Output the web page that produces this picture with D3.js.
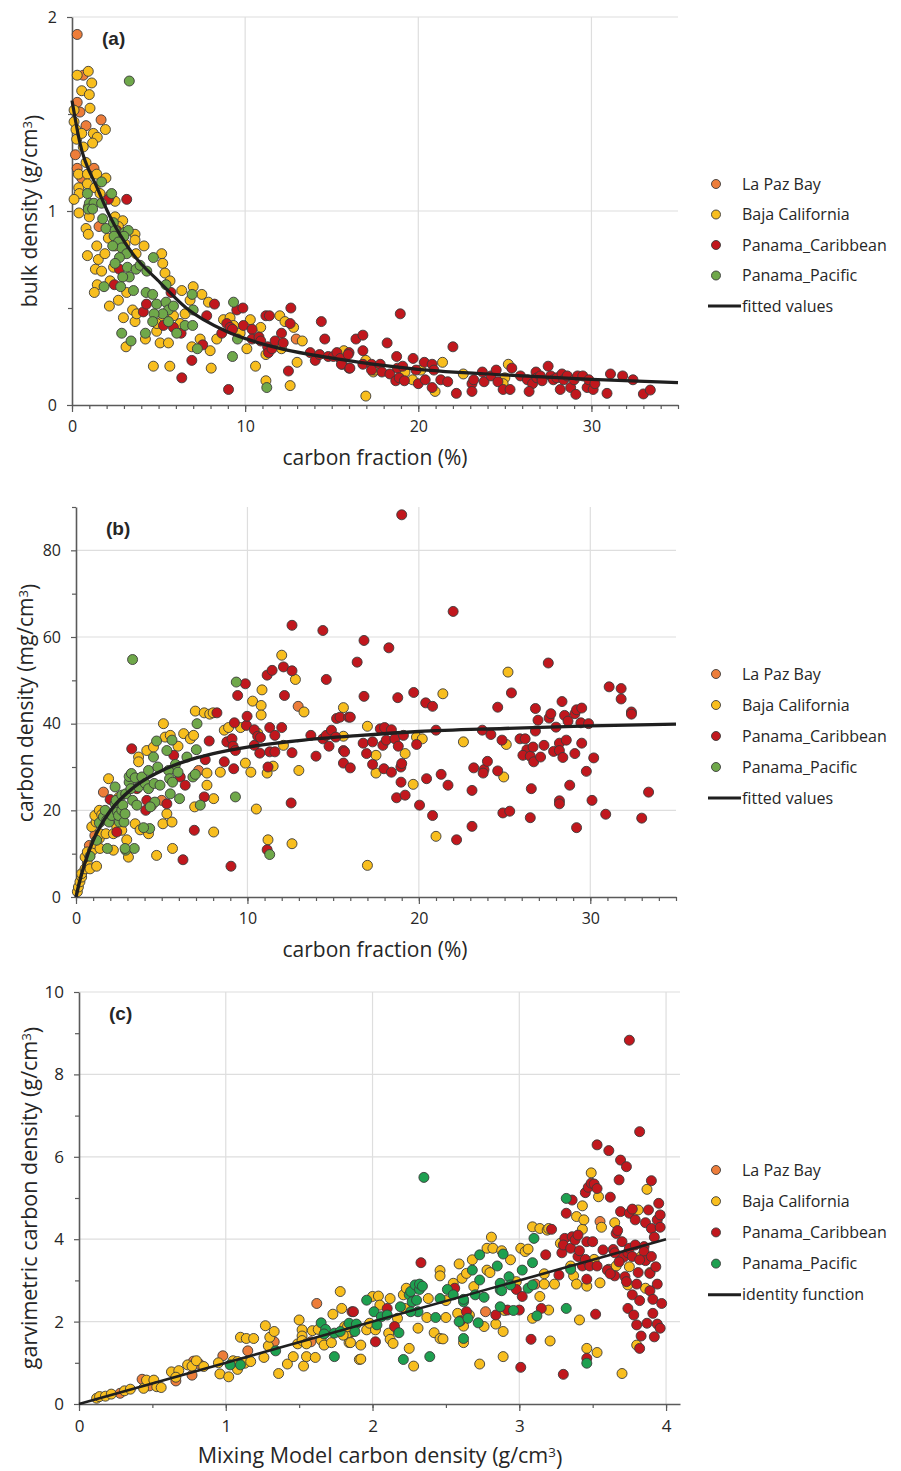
<!DOCTYPE html>
<html>
<head>
<meta charset="utf-8">
<script src="https://cdn.jsdelivr.net/npm/d3@7"></script>
<style>
  body { margin: 0; background: #fff; }
  text { font-family: "Open Sans", sans-serif; fill: #262626; }
</style>
</head>
<body>
<div id="chart"></div>
<script>
// ---- series names ----
const seriesNames = ["La Paz Bay", "Baja California", "Panama_Caribbean", "Panama_Pacific"];

// ---- panel (a): bulk density vs carbon fraction ----
const aLaPaz = [[0.3,1.91],[0.65,1.70],[0.3,1.56],[0.46,1.51],[1.68,1.47],[0.81,1.44],[0.2,1.29],[0.3,1.22],
  [0.56,1.17],[1.27,1.22],[1.56,0.92],[2.58,0.90],[12.95,0.34]];
const aBaja = [[0.3,1.70],[0.94,1.72],[0.56,1.62],[1.0,1.60],[1.14,1.66],[1.04,1.53],[0.12,1.52],[0.12,1.46],
  [0.23,1.42],[0.27,1.37],[0.56,1.40],[1.23,1.40],[1.46,1.38],[1.93,1.42],[1.19,1.35],[0.65,1.33],[0.81,1.25],
  [0.37,1.19],[0.89,1.19],[1.43,1.19],[1.96,1.17],[0.39,1.12],[0.42,1.09],[0.89,1.14],[1.33,1.12],[1.62,1.09],
  [0.12,1.06],[0.4,0.99],[0.94,1.02],[2.49,1.05],[2.2,1.08],[1.0,0.97],[0.81,0.91],[0.94,0.88],[0.89,0.77],
  [1.43,0.82],[1.52,0.75],[1.35,0.70],[1.71,0.69],[1.46,0.62],[1.29,0.58],[2.2,0.64],[2.16,0.51],[2.68,0.54],
  [2.97,0.45],[3.12,0.30],[2.49,0.97],[2.93,0.95],[2.68,0.92],[2.1,0.86],[2.49,0.82],[3.06,0.83],[3.64,0.88],
  [3.64,0.85],[4.16,0.82],[3.7,0.78],[1.9,0.78],[2.4,0.71],[3.16,0.58],[3.5,0.49],[3.64,0.43],[3.74,0.47],
  [4.24,0.34],[4.89,0.38],[5.09,0.32],[5.57,0.32],[4.7,0.20],[5.65,0.20],[5.18,0.78],[5.24,0.73],[5.37,0.68],
  [5.66,0.64],[6.34,0.59],[7.0,0.61],[7.5,0.57],[7.88,0.53],[6.82,0.54],[6.53,0.47],[6.24,0.42],[5.86,0.46],
  [5.28,0.44],[4.9,0.42],[6.92,0.30],[7.4,0.34],[7.98,0.28],[8.04,0.19],[8.36,0.34],[8.75,0.44],[9.13,0.45],
  [9.33,0.41],[9.71,0.37],[10.1,0.29],[10.3,0.44],[10.6,0.20],[10.9,0.40],[11.2,0.26],[11.2,0.125],[12.0,0.46],
  [12.3,0.43],[12.8,0.40],[12.1,0.29],[12.6,0.10],[13.0,0.22],[13.3,0.33],[15.7,0.28],[16.97,0.23],[17.4,0.17],
  [16.97,0.046],[19.23,0.17],[19.67,0.13],[20.15,0.18],[20.97,0.07],[21.4,0.22],[22.6,0.16],[25.0,0.14],
  [24.9,0.11],[25.2,0.21],[17.5,0.18]];
const aCarib = [[3.16,1.06],[2.1,1.06],[2.58,0.90],[2.74,0.70],[2.45,0.62],[4.12,0.48],[5.72,0.58],[4.3,0.52],
  [5.28,0.41],[6.3,0.37],[5.86,0.40],[6.34,0.14],[6.92,0.23],[7.55,0.31],[7.78,0.46],[8.23,0.52],[8.65,0.37],
  [8.94,0.42],[9.13,0.40],[9.27,0.39],[9.04,0.08],[9.52,0.49],[9.87,0.50],[9.9,0.41],[10.4,0.39],[10.4,0.34],
  [10.8,0.35],[10.9,0.33],[11.2,0.46],[11.4,0.46],[11.3,0.30],[11.35,0.27],[11.55,0.29],[11.73,0.33],[12.1,0.37],
  [12.2,0.32],[12.5,0.175],[12.64,0.50],[12.6,0.42],[13.76,0.27],[14.05,0.23],[14.4,0.43],[14.6,0.34],[14.3,0.26],
  [14.8,0.25],[15.1,0.25],[15.3,0.27],[15.5,0.24],[15.6,0.21],[16.0,0.27],[16.0,0.19],[16.4,0.34],[15.56,0.21],
  [15.95,0.26],[16.05,0.19],[16.8,0.36],[16.8,0.28],[16.8,0.21],[17.3,0.21],[17.3,0.18],[17.8,0.21],[17.9,0.17],
  [18.2,0.32],[18.36,0.16],[18.75,0.25],[18.7,0.125],[18.8,0.19],[18.96,0.47],[18.9,0.14],[19.1,0.20],[19.2,0.125],
  [19.7,0.24],[19.87,0.18],[20.0,0.11],[20.35,0.22],[20.4,0.13],[20.8,0.21],[20.8,0.09],[20.9,0.18],[21.3,0.13],
  [21.7,0.12],[22.0,0.30],[22.2,0.06],[23.1,0.11],[23.2,0.13],[23.1,0.07],[23.7,0.17],[23.8,0.12],[24.2,0.15],
  [24.5,0.18],[24.6,0.12],[24.9,0.08],[25.3,0.08],[25.4,0.19],[25.9,0.15],[26.3,0.13],[26.6,0.11],[26.4,0.07],
  [26.8,0.17],[26.85,0.14],[27.05,0.15],[27.15,0.125],[27.5,0.20],[27.65,0.15],[27.8,0.13],[28.0,0.14],[28.2,0.08],
  [28.3,0.16],[28.4,0.13],[28.6,0.15],[28.8,0.09],[29.0,0.13],[29.1,0.055],[29.2,0.15],[29.5,0.15],[29.75,0.09],
  [29.85,0.13],[30.1,0.08],[30.2,0.11],[30.9,0.06],[31.1,0.16],[31.8,0.15],[32.4,0.13],[33.0,0.057],[33.4,0.077]];
const aPacific = [[3.31,1.67],[1.71,1.15],[0.89,1.09],[2.29,1.09],[1.0,1.04],[1.27,1.04],[1.71,1.04],[0.94,1.01],
  [1.19,1.01],[1.77,0.96],[1.96,0.91],[2.39,0.94],[2.49,0.90],[3.06,0.89],[3.25,0.90],[3.0,0.87],[2.43,0.87],
  [2.68,0.84],[2.87,0.81],[3.16,0.78],[2.35,0.82],[2.74,0.76],[2.49,0.73],[3.2,0.71],[3.7,0.70],[3.93,0.72],
  [4.32,0.69],[4.7,0.76],[3.31,0.66],[2.93,0.66],[2.81,0.61],[3.55,0.59],[4.28,0.58],[4.66,0.57],[4.89,0.52],
  [5.43,0.53],[5.43,0.62],[5.57,0.49],[5.86,0.51],[5.24,0.47],[4.74,0.47],[7.0,0.49],[6.94,0.57],[9.33,0.53],
  [6.53,0.41],[6.97,0.41],[4.66,0.43],[4.24,0.37],[2.87,0.37],[3.41,0.33],[1.85,0.61],[6.05,0.37],[7.24,0.29],
  [9.56,0.34],[9.27,0.25],[11.25,0.09],[5.57,0.43]];
const aFit = [[0,1.57],[0.46,1.35],[1.45,1.12],[2.2,0.97],[3.5,0.78],[5.1,0.63],[6.6,0.50],[8.9,0.38],
  [11.2,0.31],[15.5,0.235],[20,0.184],[25,0.155],[30,0.132],[35,0.115]];

// ---- panel (b): carbon density vs carbon fraction ----
const bLaPaz = [[1.6,24.2],[0.78,11.9],[1.1,14.2],[7.15,29.2],[12.96,44.0],[5.0,22.3]];
const bBaja = [[0.08,1.2],[0.14,2.3],[0.23,3.5],[0.33,4.6],[0.33,5.4],[0.53,6.5],[0.66,7.8],[0.82,6.5],[0.53,9.2],
  [0.78,9.6],[0.66,10.4],[0.97,10.8],[1.2,7.1],[1.1,12.3],[1.36,13.5],[1.4,11.2],[0.92,16.2],[1.17,17.3],[1.1,18.8],
  [1.36,20],[1.4,14.6],[1.75,14.6],[1.9,27.3],[2.18,14.6],[2.18,10.8],[2.38,16.2],[2.67,15.4],[2.96,13.2],[3.06,9.2],
  [3.45,16.9],[3.74,15.5],[4.23,14.6],[3.65,32.3],[3.65,31.2],[4.13,33.8],[4.52,34.6],[4.7,9.6],[5.07,16.9],
  [5.3,19.2],[5.1,40],[5.2,36.9],[5.5,37.3],[5.95,34.8],[5.63,11.2],[5.6,17.3],[6.28,37.7],[6.67,36.5],[6.86,37.3],
  [6.96,42.9],[7.48,42.5],[7.8,42.2],[8.0,42.5],[6.92,20.8],[7.64,25.8],[7.64,28.6],[8.03,15],[8.03,22.7],
  [8.42,28.8],[8.65,38.5],[8.9,39.1],[9.6,39.1],[9.88,30.9],[10.2,28.8],[10.3,45.2],[10.85,47.8],[10.8,44.2],
  [10.8,42],[10.6,37.8],[10.52,20.3],[11.15,28.6],[11.5,30.2],[11.2,13.2],[12.0,55.8],[12.1,35],[12.8,50.2],
  [13.3,42.7],[12.6,12.3],[13.0,29.2],[15.6,37.1],[15.6,43.7],[17.0,39.4],[17.5,32.7],[17.5,28.6],[19.2,33.1],
  [19.67,26],[19.86,36.9],[20.2,36.5],[21.4,46.9],[21.0,14],[22.6,35.8],[24.95,27.7],[25.1,35.2],[25.2,51.9],
  [17.0,7.3],[1.5,19],[2.5,23],[4.4,21]];
const bCarib = [[3.25,34.2],[2.38,15],[1.99,22.5],[3.55,25],[4.07,20],[4.13,22.3],[5.3,21.5],[5.7,32.7],[6.08,27.7],
  [6.37,25.8],[6.24,8.6],[6.9,15.4],[7.48,23.1],[7.54,31.7],[7.77,36],[8.22,42.5],[8.65,31.2],[8.8,35.8],[9.1,36.5],
  [9.16,34.8],[9.2,29.6],[9.3,33.8],[9.43,46.5],[9.04,7.1],[9.24,40.2],[9.88,49.2],[9.94,39.6],[9.98,41.7],
  [10.4,35],[10.4,38.6],[10.6,37.1],[10.72,33.2],[10.76,36.8],[11.15,51.2],[11.44,52.3],[11.3,39.1],[11.3,33.5],
  [11.6,33.5],[11.6,37.3],[11.2,30],[11.15,10.9],[12.1,53.1],[12.16,46.5],[12.0,39.1],[12.6,52.2],[12.6,33.3],
  [12.55,21.7],[12.6,62.7],[14.4,61.5],[14.6,50.2],[13.7,37.3],[14.0,32.5],[14.4,36.5],[14.6,37.3],[14.76,34.8],
  [14.9,38.5],[15.15,36.9],[15.2,41.2],[15.4,41.5],[15.6,33.8],[15.6,30.9],[16.0,29.8],[15.9,41.5],[16.4,54.2],
  [16.8,59.2],[16.8,46.3],[18.25,57.5],[19.0,88.2],[22.0,65.9],[16.0,41.5],[15.67,33.5],[16.75,35.5],[16.95,33.1],
  [17.3,35.8],[17.3,30.6],[17.9,35],[17.75,38.8],[18.0,39.1],[18.1,36.2],[18.4,38.6],[17.96,29.6],[18.4,28.8],
  [18.6,36.5],[18.8,34.8],[18.95,30],[19.0,30.8],[18.77,46],[18.96,26.5],[18.7,22.9],[19.2,23.5],[19.1,37.3],
  [19.7,47.2],[19.87,35.2],[20.04,21.2],[20.4,44.8],[20.8,44],[20.45,27.3],[21.0,38.5],[21.3,28.3],[20.8,18.8],
  [21.7,25.8],[22.2,13.2],[23.1,24.6],[23.2,29.8],[23.1,16.3],[23.8,29.4],[24.0,31.3],[23.75,28.6],[23.7,38.5],
  [24.2,37.5],[24.6,43.8],[24.85,36.2],[24.6,29.1],[24.9,19.4],[25.3,19.8],[25.4,47.1],[25.9,36.5],[26.2,36.5],
  [26.3,34],[26.07,32.7],[26.5,32.5],[26.7,31.2],[26.66,34.6],[26.8,38.3],[26.56,25],[26.5,18.3],[26.8,43.5],
  [26.95,40.8],[27.3,35],[27.1,32.3],[27.55,54],[27.6,41.3],[27.7,42.3],[27.86,33.6],[28.0,39.2],[28.2,35.5],
  [28.2,33.8],[28.4,32.2],[28.35,45.1],[28.5,41.9],[28.7,40.6],[28.6,36.2],[28.2,22.2],[28.2,21.5],[28.8,25.8],
  [29.1,42.3],[29.2,43.2],[29.5,43.6],[29.45,40.2],[29.9,40],[29.1,33.1],[29.5,35.5],[29.2,16],[29.77,29],
  [30.1,22.3],[30.2,32.1],[30.9,19.1],[31.1,48.5],[31.8,48.1],[31.8,45.7],[32.4,42.7],[32.4,42.2],[33.0,18.2],
  [33.4,24.2]];
const bPacific = [[3.3,54.8],[0.82,9.4],[1.2,13.1],[1.83,11.2],[1.36,17.1],[1.6,18.5],[1.7,20],[1.79,17.7],
  [1.93,17.3],[2.09,18.8],[2.28,21.5],[2.34,22.3],[2.42,19.6],[2.53,17.3],[2.48,18.8],[2.67,20],[2.73,21.2],
  [2.8,17.3],[2.86,19.2],[2.28,25.4],[2.67,23.5],[2.9,23.8],[3.1,26.5],[3.1,27.8],[3.23,28.5],[3.2,25],[3.3,22.3],
  [3.55,21.2],[3.45,27.5],[2.9,10.8],[3.4,11.2],[3.65,25.4],[3.84,27.7],[4.04,26.2],[4.23,25],[4.23,29.2],
  [4.52,32.3],[4.56,26.2],[4.6,21.9],[4.33,20.8],[4.3,15.8],[4.77,30],[4.9,25.8],[4.7,36],[5.3,33.8],[5.4,29.2],
  [5.6,36.2],[5.46,27.3],[5.5,23.8],[5.63,26.5],[5.8,30.6],[5.95,28.8],[6.04,22.7],[6.47,32.3],[6.82,27.7],
  [6.96,28.3],[7.02,34],[7.06,40],[7.25,21.2],[9.3,23.1],[9.35,49.6],[11.3,9.8],[2.86,11.2],[3.94,16]];
const bFit = [[0,0],[0.2,3.4],[0.5,7.6],[1,13],[1.4,16.2],[2,19.9],[3.3,25.1],[5.3,29.7],[7.2,32.3],[10,34.6],
  [13,36.1],[16.6,37.3],[20,38.2],[25,38.9],[30,39.5],[35,39.9]];

// ---- panel (c): gravimetric vs mixing model carbon density ----
const cLaPaz = [[0.28,0.26],[0.43,0.60],[0.48,0.44],[0.66,0.56],[0.77,0.70],[0.78,1.04],[0.82,0.97],[0.98,1.17],
  [1.15,1.29],[1.33,1.51],[1.62,2.44],[1.58,1.51],[1.85,1.73],[1.86,1.76],[2.77,2.24],[3.11,2.91],[3.55,4.43],
  [3.61,3.27]];
const cBaja = [[0.12,0.14],[0.14,0.18],[0.18,0.19],[0.22,0.24],[0.31,0.32],[0.35,0.36],[0.44,0.38],[0.46,0.58],
  [0.51,0.58],[0.53,0.42],[0.56,0.40],[0.63,0.78],[0.68,0.81],[0.66,0.65],[0.74,0.95],[0.77,0.92],[0.8,1.05],
  [0.85,0.91],[0.95,1.0],[0.96,0.73],[1.02,0.66],[1.05,1.05],[1.08,0.84],[1.08,1.03],[1.13,0.99],[1.17,1.03],
  [1.1,1.62],[1.14,1.59],[1.19,1.59],[1.27,1.90],[1.26,1.13],[1.29,1.41],[1.3,1.62],[1.33,1.76],[1.36,0.74],
  [1.42,0.97],[1.46,1.15],[1.5,2.04],[1.49,1.46],[1.52,1.80],[1.52,1.65],[1.52,1.54],[1.55,1.46],[1.53,0.92],
  [1.55,1.15],[1.61,1.13],[1.59,1.78],[1.63,1.81],[1.65,1.55],[1.67,1.43],[1.68,1.73],[1.72,1.49],[1.73,2.18],
  [1.78,2.73],[1.79,2.32],[1.81,1.88],[1.82,1.67],[1.84,1.49],[1.91,1.08],[1.8,1.67],[1.83,1.88],[1.85,1.49],
  [1.92,1.43],[1.92,1.09],[1.96,1.80],[2.0,2.61],[2.04,2.62],[1.98,1.96],[2.02,1.80],[2.05,2.40],[2.12,2.56],
  [2.11,1.72],[2.12,1.57],[2.14,1.47],[2.17,2.08],[2.21,2.65],[2.23,2.81],[2.22,2.32],[2.25,1.35],[2.28,0.92],
  [2.31,1.84],[2.38,2.56],[2.37,2.10],[2.42,1.73],[2.46,3.24],[2.46,3.11],[2.46,1.59],[2.48,1.58],[2.5,2.51],
  [2.5,2.10],[2.55,2.93],[2.58,2.20],[2.59,3.40],[2.61,3.05],[2.62,1.49],[2.62,1.89],[2.64,3.17],[2.66,2.16],
  [2.68,3.50],[2.69,2.85],[2.73,0.97],[2.76,1.88],[2.78,3.25],[2.81,4.05],[2.78,3.78],[2.82,3.78],[2.8,3.19],
  [2.84,1.94],[2.88,3.72],[2.89,1.76],[2.89,1.15],[2.9,2.27],[2.94,3.50],[2.98,2.97],[3.01,3.78],[3.04,3.70],
  [3.06,3.76],[3.09,4.30],[3.09,2.08],[3.14,4.26],[3.17,3.16],[3.17,2.91],[3.14,2.61],[3.2,2.28],[3.21,1.53],
  [3.19,4.22],[3.2,4.26],[3.24,2.91],[3.28,3.90],[3.35,3.35],[3.37,3.11],[3.39,2.91],[3.39,4.55],[3.41,2.04],
  [3.43,4.81],[3.43,4.24],[3.44,4.47],[3.46,1.35],[3.46,2.86],[3.49,5.61],[3.51,3.51],[3.53,1.25],[3.54,5.03],
  [3.55,2.94],[3.56,4.29],[3.65,4.40],[3.66,3.35],[3.7,0.74],[3.74,2.89],[3.75,3.33],[3.81,4.71],[3.83,3.58],
  [3.8,1.43],[3.87,5.21],[3.86,2.81],[3.89,3.19]];
const cCarib = [[1.86,2.24],[1.87,2.24],[2.02,1.51],[2.1,2.32],[2.15,1.88],[2.33,3.43],[2.56,2.81],[2.6,2.02],
  [2.64,2.24],[2.84,2.16],[2.92,2.28],[3.0,2.28],[2.98,2.78],[3.02,2.61],[3.01,0.89],[3.08,1.57],[3.15,2.32],
  [3.18,3.62],[3.22,4.24],[3.27,3.13],[3.3,0.72],[3.29,3.67],[3.31,4.02],[3.3,3.86],[3.32,4.63],[3.35,3.78],
  [3.36,4.95],[3.36,4.06],[3.38,3.98],[3.4,4.10],[3.4,3.58],[3.41,3.72],[3.43,3.35],[3.45,3.51],[3.46,3.94],
  [3.46,3.03],[3.46,1.11],[3.45,5.13],[3.47,5.26],[3.48,3.35],[3.49,5.36],[3.5,3.94],[3.51,5.34],[3.52,2.18],
  [3.53,6.29],[3.53,5.23],[3.53,3.35],[3.6,3.25],[3.57,3.74],[3.61,6.15],[3.62,5.02],[3.64,3.75],[3.65,3.67],
  [3.65,3.11],[3.66,4.14],[3.67,4.21],[3.68,5.44],[3.69,5.92],[3.69,4.67],[3.7,3.94],[3.71,3.56],[3.68,3.45],
  [3.72,3.09],[3.73,5.76],[3.74,3.67],[3.75,8.83],[3.75,4.63],[3.75,3.78],[3.77,4.73],[3.77,3.58],[3.77,2.65],
  [3.74,2.32],[3.73,2.97],[3.78,2.16],[3.79,4.47],[3.8,1.92],[3.8,2.91],[3.81,3.19],[3.82,6.61],[3.82,2.51],
  [3.83,1.65],[3.82,1.35],[3.85,3.82],[3.85,3.70],[3.86,4.40],[3.86,3.48],[3.87,1.96],[3.88,4.71],[3.89,2.75],
  [3.89,3.17],[3.9,3.58],[3.9,4.26],[3.9,5.42],[3.91,2.54],[3.91,2.20],[3.92,1.63],[3.92,4.05],[3.93,3.33],
  [3.94,2.91],[3.94,1.94],[3.94,4.47],[3.95,4.87],[3.96,4.29],[3.96,4.59],[3.96,1.84],[3.97,2.44],[3.82,3.50],
  [3.79,3.86],[3.62,3.16]];
const cPacific = [[1.03,0.95],[1.1,0.95],[1.34,1.29],[1.65,1.97],[1.68,1.81],[1.67,1.70],[1.74,1.15],[1.74,1.72],
  [1.78,1.76],[1.84,1.96],[1.89,1.94],[1.88,1.76],[2.35,5.50],[1.96,2.52],[2.01,2.24],[2.03,1.92],[2.06,2.12],
  [2.1,2.16],[2.18,1.73],[2.19,2.36],[2.21,1.08],[2.25,2.65],[2.26,2.73],[2.27,2.48],[2.29,2.89],[2.3,2.52],
  [2.32,2.78],[2.32,2.91],[2.34,2.86],[2.31,2.24],[2.26,2.24],[2.39,1.15],[2.43,2.10],[2.46,2.56],[2.51,2.78],
  [2.55,2.65],[2.59,2.00],[2.62,2.48],[2.62,1.59],[2.62,2.54],[2.65,2.08],[2.68,3.25],[2.7,2.65],[2.72,1.97],
  [2.73,3.62],[2.73,3.01],[2.76,2.59],[2.85,3.35],[2.87,2.77],[2.87,2.93],[2.89,3.64],[2.88,2.75],[2.87,2.36],
  [2.93,3.09],[2.94,2.89],[2.96,2.27],[3.02,3.25],[3.06,2.81],[3.09,2.89],[3.09,3.43],[3.1,4.02],[3.12,2.14],
  [3.32,4.99],[3.32,2.32],[3.35,3.27],[3.46,0.99]];
const cIdentity = [[0,0],[4,4]];

// ---- tick values ----
const aXMajor = [0, 10, 20, 30], aYMajor = [0, 1, 2];
const bXMajor = [0, 10, 20, 30], bYMajor = [0, 20, 40, 60, 80];
const cXMajor = [0, 1, 2, 3, 4], cYMajor = [0, 2, 4, 6, 8, 10];

const colors = ["#ED7D3A", "#F8BE1E", "#C1171D", "#6FA84A"];
const colorsC = ["#ED7D3A", "#F8BE1E", "#C1171D", "#1EA050"];
const axisColor = "#5a5a5a", gridColor = "#dedede";

const svg = d3.select("#chart").append("svg")
  .attr("width", 901)
  .attr("height", 1471);

const drawPanel = (p) => {
  const x = d3.scaleLinear().domain(p.xDomain).range([p.left, p.right]);
  const y = d3.scaleLinear().domain(p.yDomain).range([p.bottom, p.top]);
  const g = svg.append("g");

  // gridlines
  g.selectAll("line.vgrid").data(p.xGrid).join("line")
    .attr("class", "vgrid")
    .attr("x1", d => x(d)).attr("x2", d => x(d))
    .attr("y1", p.top).attr("y2", p.bottom)
    .attr("stroke", gridColor).attr("stroke-width", 1.2);
  g.selectAll("line.hgrid").data(p.yGrid).join("line")
    .attr("class", "hgrid")
    .attr("x1", p.left).attr("x2", p.right)
    .attr("y1", d => y(d)).attr("y2", d => y(d))
    .attr("stroke", gridColor).attr("stroke-width", 1.2);

  // axes: minor ticks, then major ticks with labels
  const xMinor = g.append("g").attr("transform", `translate(0,${p.bottom})`)
    .call(d3.axisBottom(x).tickValues(p.xMinor).tickSize(4).tickSizeOuter(0).tickFormat(""));
  xMinor.select(".domain").remove();
  const xAx = g.append("g").attr("transform", `translate(0,${p.bottom})`)
    .call(d3.axisBottom(x).tickValues(p.xMajor).tickSize(7).tickSizeOuter(0).tickPadding(9)
      .tickFormat(d3.format("d")));
  const yMinor = g.append("g").attr("transform", `translate(${p.left},0)`)
    .call(d3.axisLeft(y).tickValues(p.yMinor).tickSize(4).tickSizeOuter(0).tickFormat(""));
  yMinor.select(".domain").remove();
  const yAx = g.append("g").attr("transform", `translate(${p.left},0)`)
    .call(d3.axisLeft(y).tickValues(p.yMajor).tickSize(5).tickSizeOuter(0).tickPadding(10)
      .tickFormat(d3.format("d")));

  [xMinor, xAx, yMinor, yAx].forEach(a => {
    a.selectAll(".tick line").attr("stroke", axisColor).attr("stroke-width", 1.2);
    a.selectAll(".domain").attr("stroke", axisColor).attr("stroke-width", 1.6);
    a.selectAll("text").attr("font-size", p.tickFont).attr("fill", "#262626")
      .attr("font-family", "'Open Sans', sans-serif");
  });

  // points
  p.series.forEach((pts, i) => {
    g.append("g").selectAll("circle").data(pts).join("circle")
      .attr("cx", d => x(d[0]))
      .attr("cy", d => y(d[1]))
      .attr("r", 5)
      .attr("fill", p.colors[i])
      .attr("stroke", "#3b3b3b")
      .attr("stroke-width", 0.9);
  });

  // fitted / identity line
  const line = d3.line().x(d => x(d[0])).y(d => y(d[1])).curve(d3.curveMonotoneX);
  g.append("path")
    .attr("d", line(p.fit))
    .attr("fill", "none")
    .attr("stroke", "#1f1f1f")
    .attr("stroke-width", p.fitWidth);

  // panel label
  g.append("text")
    .attr("x", p.left + 30).attr("y", p.top + 28)
    .attr("font-size", 19).attr("font-weight", "bold")
    .style("font-family", "'Liberation Sans', Arial, sans-serif")
    .text(p.label);

  // axis titles
  const xt = g.append("text")
    .attr("x", p.xTitleX).attr("y", p.xTitleY)
    .attr("text-anchor", "middle")
    .attr("dy", "0.35em")
    .attr("font-size", p.titleFont);
  xt.append("tspan").text(p.xTitle[0]);
  if (p.xTitle[1]) {
    xt.append("tspan").attr("dy", "-0.45em").attr("font-size", p.titleFont * 0.62).text("3");
    xt.append("tspan").attr("dy", "0.45em").text(p.xTitle[1]);
  }
  const yt = g.append("text")
    .attr("transform", `translate(${p.yTitleX},${p.yTitleY}) rotate(-90)`)
    .attr("text-anchor", "middle")
    .attr("dy", "0.35em")
    .attr("font-size", p.titleFont);
  yt.append("tspan").text(p.yTitle[0]);
  yt.append("tspan").attr("dy", "-0.45em").attr("font-size", p.titleFont * 0.62).text("3");
  yt.append("tspan").attr("dy", "0.45em").text(p.yTitle[1]);

  // legend
  const lg = g.append("g");
  seriesNames.forEach((name, i) => {
    const ly = p.legendY + i * p.legendStep;
    lg.append("circle").attr("cx", 716).attr("cy", ly).attr("r", 4.5)
      .attr("fill", p.colors[i]).attr("stroke", "#3b3b3b").attr("stroke-width", 0.9);
    lg.append("text").attr("x", 742).attr("y", ly).attr("dy", "0.35em")
      .attr("font-size", 16).text(name);
  });
  const lly = p.legendY + 4 * p.legendStep;
  lg.append("line").attr("x1", 708).attr("x2", 741).attr("y1", lly).attr("y2", lly)
    .attr("stroke", "#1f1f1f").attr("stroke-width", 3);
  lg.append("text").attr("x", 742).attr("y", lly).attr("dy", "0.35em")
    .attr("font-size", 16).text(p.lineName);
};

drawPanel({
  left: 72, right: 678, top: 17, bottom: 405,
  xDomain: [0, 35], yDomain: [0, 2],
  xMajor: aXMajor, xMinor: d3.range(0, 36, 1), yMajor: aYMajor, yMinor: [0.5, 1.5],
  xGrid: [10, 20, 30], yGrid: [1, 2],
  series: [aLaPaz, aBaja, aCarib, aPacific], colors: colors,
  fit: aFit, fitWidth: 3.2, label: "(a)",
  xTitle: ["carbon fraction (%)"], yTitle: ["bulk density (g/cm", ")"],
  xTitleX: 375, xTitleY: 458, yTitleX: 30, yTitleY: 211,
  tickFont: 16, titleFont: 21,
  legendY: 184, legendStep: 30.5, lineName: "fitted values"
});

drawPanel({
  left: 76, right: 676, top: 507, bottom: 897,
  xDomain: [0, 35], yDomain: [0, 90],
  xMajor: bXMajor, xMinor: d3.range(0, 36, 1), yMajor: bYMajor, yMinor: [10, 30, 50, 70, 90],
  xGrid: [10, 20, 30], yGrid: [20, 40, 60, 80],
  series: [bLaPaz, bBaja, bCarib, bPacific], colors: colors,
  fit: bFit, fitWidth: 3.4, label: "(b)",
  xTitle: ["carbon fraction (%)"], yTitle: ["carbon density (mg/cm", ")"],
  xTitleX: 375, xTitleY: 950, yTitleX: 26, yTitleY: 703,
  tickFont: 16, titleFont: 21,
  legendY: 674, legendStep: 31, lineName: "fitted values"
});

drawPanel({
  left: 79, right: 680, top: 992, bottom: 1404,
  xDomain: [0, 4.095], yDomain: [0, 10],
  xMajor: cXMajor, xMinor: d3.range(0, 4.01, 0.5), yMajor: cYMajor, yMinor: [1, 3, 5, 7, 9],
  xGrid: [1, 2, 3, 4], yGrid: [2, 4, 6, 8, 10],
  series: [cLaPaz, cBaja, cCarib, cPacific], colors: colorsC,
  fit: cIdentity, fitWidth: 2.6, label: "(c)",
  xTitle: ["Mixing Model carbon density (g/cm", ")"], yTitle: ["garvimetric carbon density (g/cm", ")"],
  xTitleX: 380, xTitleY: 1455, yTitleX: 29, yTitleY: 1198,
  tickFont: 17, titleFont: 21.5,
  legendY: 1170, legendStep: 31.2, lineName: "identity function"
});
</script>
</body>
</html>
